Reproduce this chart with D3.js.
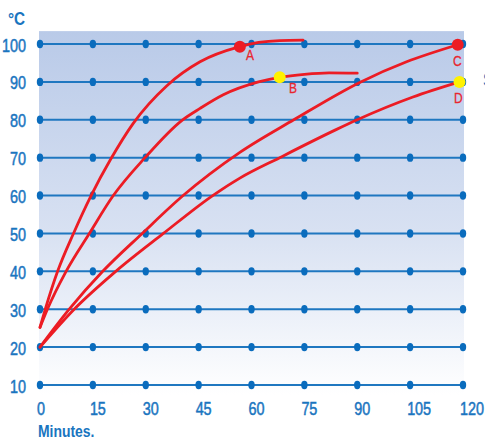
<!DOCTYPE html>
<html>
<head>
<meta charset="utf-8">
<script src="https://cdn.jsdelivr.net/npm/d3@7/dist/d3.min.js"></script>
<style>
  html, body { margin: 0; padding: 0; background: #ffffff; }
  svg { display: block; }
  text { font-family: "Liberation Sans Narrow", "Liberation Sans", "DejaVu Sans Condensed", sans-serif; }
</style>
</head>
<body>
<svg id="chart" width="485" height="442"></svg>
<script>
// ---- data ----
const xTicks = [0, 15, 30, 45, 60, 75, 90, 105, 120];
const yTicks = [10, 20, 30, 40, 50, 60, 70, 80, 90, 100];
const xTitle = "Minutes.";
const yTitle = "°C";

// curve samples [minutes, °C]
const curveA = [[0,25.2],[1.5,30],[5,40],[9.5,50],[14.5,60],[20,69.5],[26.4,79],[36,89],[45.4,95.3],[56.7,99.3],[62,100.4],[68,100.9],[74.6,101]];
const curveB = [[0,25.2],[2.1,30],[7.4,40],[14,50],[20.8,60],[29.8,70],[40.2,79.8],[45.4,83],[52,86.6],[62,90],[68,91.2],[75,92],[82,92.4],[90,92.3]];
const curveC = [[0,20],[8.3,30],[17.8,40],[29,50],[40.6,60],[56.7,71.4],[72,80],[91,90],[104,95.3],[118.5,99.8]];
const curveD = [[0,20],[9.7,30],[21.5,40],[35,50],[49,60],[56.7,64.6],[68,70],[84,77.4],[90,80],[105.8,86],[119,90]];
const curves = [curveA, curveB, curveC, curveD];

const markerNames = ["A", "B", "C", "D"];
const markerPoints = [[56.7,99.3],[68,91.2],[118.5,99.8],[119,90]];
const markerColors = ["#ec1c24", "#fff200", "#ec1c24", "#fff200"];

// ---- drawing ----
const svg = d3.select("#chart");
const x = d3.scaleLinear().domain([0, 120]).range([40, 463]);
const y = d3.scaleLinear().domain([10, 100]).range([385, 44]);

const blue = "#1a75bf";
const dotBlue = "#0a6cbd";
const red = "#ec1c24";
const SX = 0.8; // horizontal condensing of text

function addText(parent, px, py, str, opts) {
  const g = parent.append("g").attr("transform", `translate(${px},${py}) scale(${opts.sx || SX},1)`);
  const t = g.append("text")
    .attr("x", 0).attr("y", 0)
    .attr("text-anchor", opts.anchor || "start")
    .attr("font-size", opts.size || 18)
    .attr("font-weight", opts.weight || "normal")
    .attr("fill", opts.fill || blue)
    .text(str);
  if (opts.stroke) t.attr("stroke", opts.fill || blue).attr("stroke-width", opts.stroke);
  return t;
}

const defs = svg.append("defs");
const grad = defs.append("linearGradient").attr("id", "bg").attr("x1", 0).attr("x2", 0).attr("y1", 0).attr("y2", 1);
grad.append("stop").attr("offset", "0%").attr("stop-color", "#b9cae8");
grad.append("stop").attr("offset", "55%").attr("stop-color", "#d8e1f2");
grad.append("stop").attr("offset", "100%").attr("stop-color", "#ffffff");

svg.append("rect")
  .attr("x", x(0) - 1).attr("y", y(103.4))
  .attr("width", x(120) - x(0) + 2).attr("height", y(10) + 10 - y(103.4))
  .attr("fill", "url(#bg)");

// gridlines
svg.append("g").selectAll("line").data(yTicks).join("line")
  .attr("x1", x(0)).attr("x2", x(120))
  .attr("y1", d => y(d)).attr("y2", d => y(d))
  .attr("stroke", "#1f77c0").attr("stroke-width", 2);

// grid dots
const dots = [];
yTicks.forEach(v => xTicks.forEach(t => dots.push([t, v])));
svg.append("g").selectAll("ellipse").data(dots).join("ellipse")
  .attr("cx", d => x(d[0])).attr("cy", d => y(d[1]))
  .attr("rx", 3.2).attr("ry", 4.2)
  .attr("fill", dotBlue);

// tick labels
const gy = svg.append("g");
yTicks.forEach(d => addText(gy, 26, y(d) + 7.5, d, { anchor: "end", size: 18, stroke: 0.5 }));
const gx = svg.append("g");
xTicks.forEach(d => addText(gx, x(d) - 3, 415, d, { anchor: "start", size: 18, stroke: 0.5 }));

addText(svg, 38, 437, xTitle, { size: 17, weight: "bold", sx: 0.82 });
addText(svg, 8, 25, yTitle, { size: 18, weight: "bold", sx: 0.85 });

// clipped text at right edge
addText(svg, 483, 86, "S", { size: 18 });

// curves
const line = d3.line().x(d => x(d[0])).y(d => y(d[1])).curve(d3.curveMonotoneX);
svg.append("g").selectAll("path").data(curves).join("path")
  .attr("d", line)
  .attr("fill", "none").attr("stroke", red).attr("stroke-width", 2.8)
  .attr("stroke-linecap", "round");

// markers
svg.append("g").selectAll("circle").data(markerPoints).join("circle")
  .attr("cx", d => x(d[0])).attr("cy", d => y(d[1]))
  .attr("r", 6)
  .attr("fill", (d, i) => markerColors[i]);

const labelPos = [[246, 60], [289, 93], [453, 66], [454, 103]];
const gl = svg.append("g");
markerNames.forEach((d, i) => addText(gl, labelPos[i][0], labelPos[i][1], d, { size: 15, fill: "#e8262e", stroke: 0.3 }));
</script>
</body>
</html>
